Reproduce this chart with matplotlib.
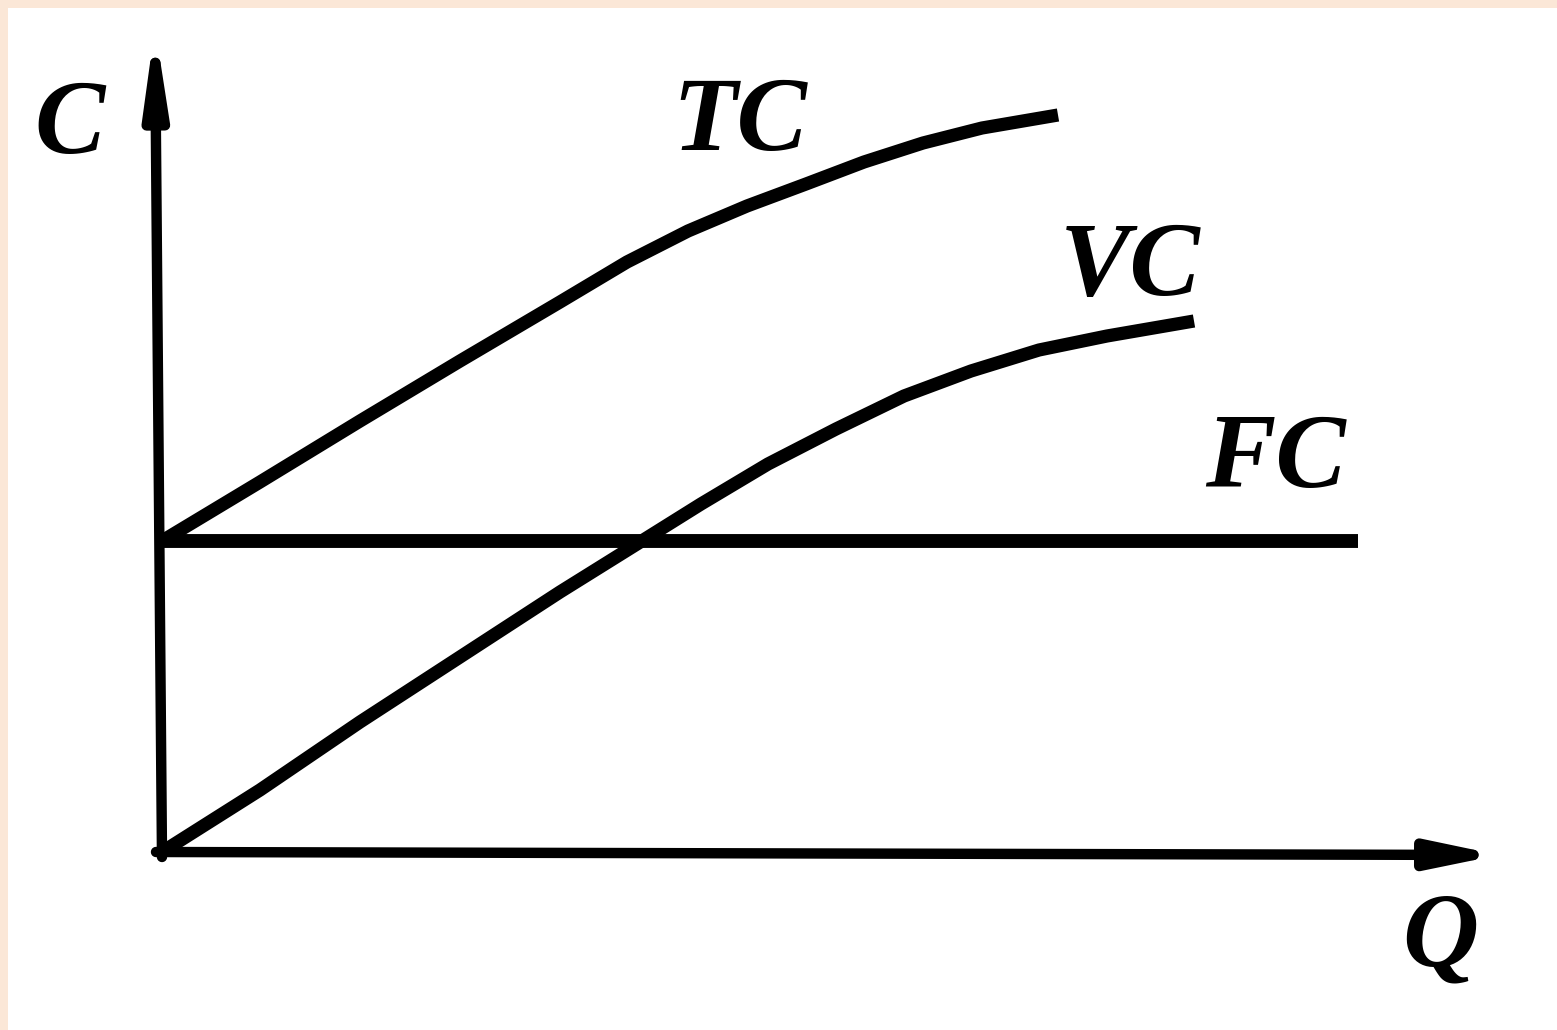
import matplotlib.pyplot as plt

# cost curves (Q = output, C = cost, arbitrary units)
q_tc = [0, 0.98, 1.98, 2.98, 3.98, 4.65, 5.26, 5.85, 6.44, 7.02, 7.61, 8.20, 8.96]
tc = [3.11, 3.70, 4.31, 4.91, 5.50, 5.90, 6.21, 6.46, 6.68, 6.90, 7.09, 7.24, 7.37]

q_vc = [0, 0.98, 1.98, 2.98, 3.98, 4.75, 5.39, 6.06, 6.74, 7.42, 8.09, 8.77, 9.45, 10.32]
vc = [0, 0.62, 1.30, 1.95, 2.60, 3.08, 3.48, 3.88, 4.23, 4.56, 4.81, 5.02, 5.16, 5.31]

q_fc = [0, 11.96]
fc = [3.11, 3.11]

curve_names = ['TC', 'VC', 'FC']
label_q = [5.78, 9.68, 11.13]
label_c = [7.27, 5.82, 3.90]

fig = plt.figure(figsize=(15.57, 10.30), dpi=100)
fig.patch.set_facecolor('#fbe7d7')
ax = fig.add_axes([8 / 1557, 0, 1549 / 1557, 1022 / 1030])
ax.set_facecolor('white')
ax.set_xlim(-1.54, 13.95)
ax.set_ylim(-1.78, 8.44)
ax.set_xticks([])
ax.set_yticks([])
for s in ax.spines.values():
    s.set_visible(False)

# axes with arrows
ax.annotate('', xy=(-0.07, 8.25), xytext=(0.0, -0.05),
            arrowprops=dict(arrowstyle='-|>,head_length=1.5,head_width=0.22',
                            mutation_scale=30, lw=7.5, color='black',
                            shrinkA=0, shrinkB=0))
ax.annotate('', xy=(13.37, -0.03), xytext=(-0.06, 0.0),
            arrowprops=dict(arrowstyle='-|>,head_length=1.3,head_width=0.27',
                            mutation_scale=30, lw=7.5, color='black',
                            shrinkA=0, shrinkB=0))

ax.plot(q_fc, fc, color='black', lw=10, solid_capstyle='butt')
ax.plot(q_tc, tc, color='black', lw=9.5, solid_capstyle='butt', solid_joinstyle='round')
ax.plot(q_vc, vc, color='black', lw=9.5, solid_capstyle='butt', solid_joinstyle='round')

font = dict(family='Liberation Serif', weight='bold', style='italic',
            fontsize=76, ha='center', va='center')
for name, x, y in zip(curve_names, label_q, label_c):
    ax.text(x, y, name, **font)
ax.text(-0.92, 7.24, 'C', **font)
ax.text(12.78, -0.88, 'Q', **font)

fig.savefig('out.png', dpi=100, facecolor=fig.get_facecolor())
